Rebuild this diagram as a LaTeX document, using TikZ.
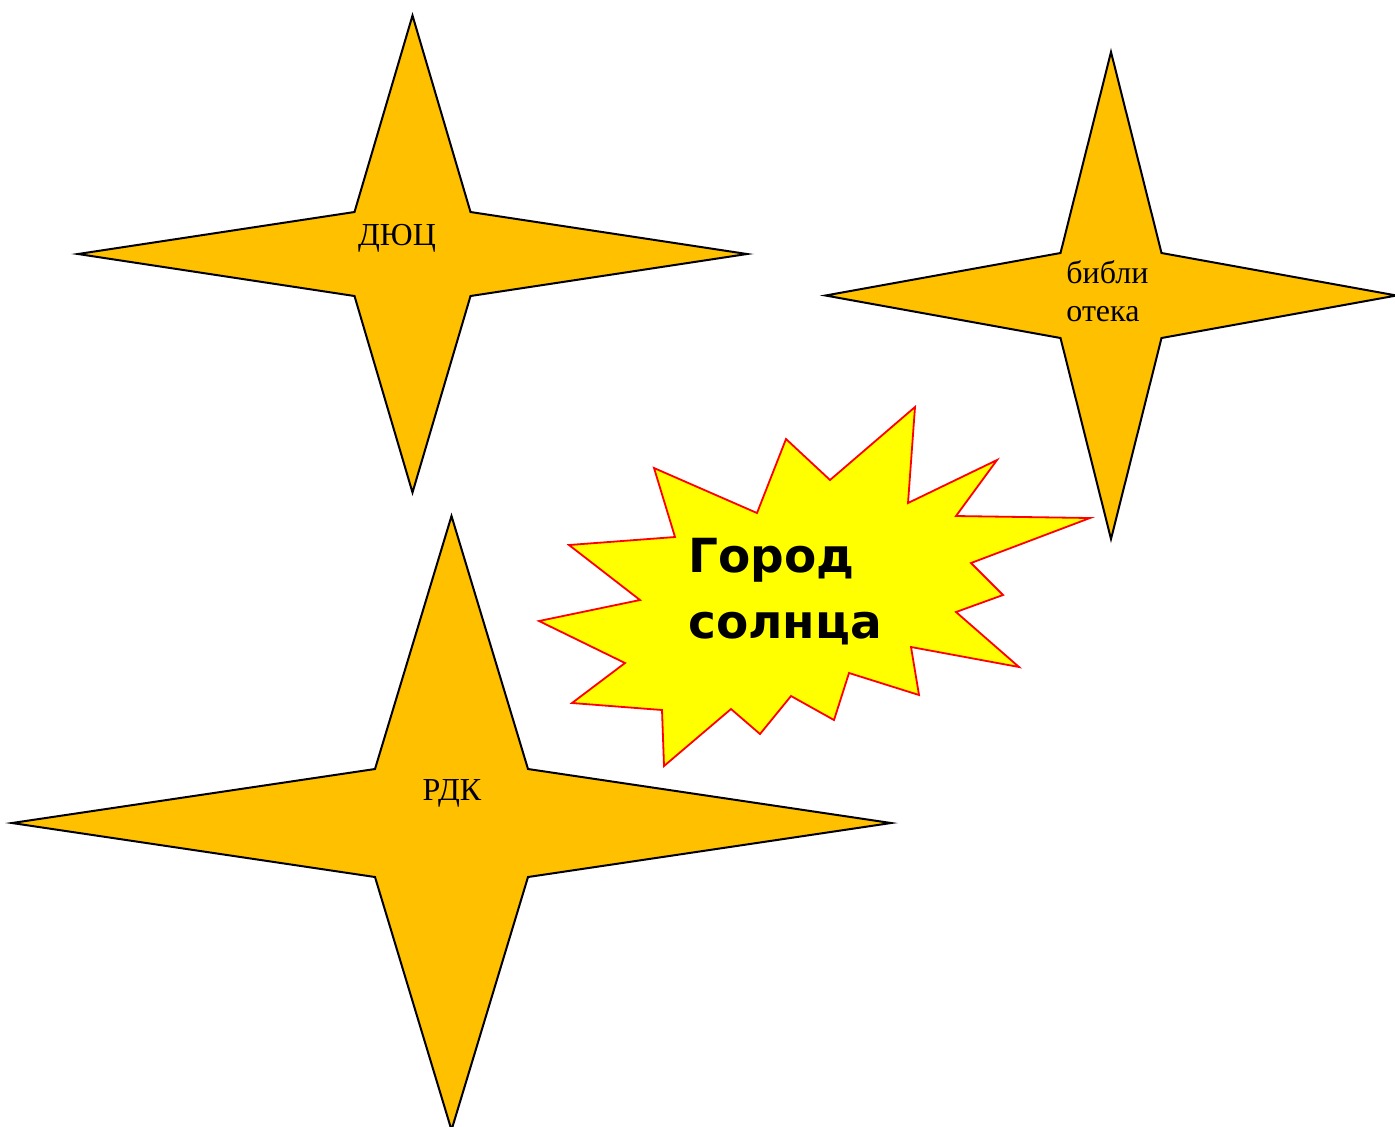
\documentclass[tikz,border=0pt]{standalone}
\usepackage{fontspec}
\setmainfont{Liberation Serif}
\newfontfamily\heavyfont{DejaVu Sans}
\usepackage{xcolor}
\definecolor{starorange}{HTML}{FFC000}
\definecolor{burstyellow}{HTML}{FFFF00}
\definecolor{burstred}{HTML}{FF0000}
\tikzset{
  fourstar/.style={draw=black, fill=starorange, line width=1pt, line join=miter},
  burst/.style={draw=burstred, fill=burstyellow, line width=0.9pt, line join=miter},
  lbl/.style={font=\fontsize{16}{19}\selectfont, inner sep=0pt, align=left},
  titlelbl/.style={font=\heavyfont\bfseries\fontsize{23.5}{33}\selectfont,
    inner sep=0pt, align=left}
}
% centre x, centre y, outer half-width, outer half-height, inner x, inner y
\newcommand{\fourpoint}[6]{%
  \draw[fourstar] ({#1},{#2-#4}) -- ({#1+#5},{#2-#6}) -- ({#1+#3},{#2})
    -- ({#1+#5},{#2+#6}) -- ({#1},{#2+#4}) -- ({#1-#5},{#2+#6})
    -- ({#1-#3},{#2}) -- ({#1-#5},{#2-#6}) -- cycle;}

\begin{document}
\begin{tikzpicture}[x=0.5pt, y=-0.5pt]
  \useasboundingbox (0,0) rectangle (1395,1126);

  % stars
  \fourpoint{412.5}{254}{334.5}{238.5}{58}{42}
  \fourpoint{1111}{295.5}{285.5}{243.5}{50.5}{42.5}
  \begin{scope}
    \clip (0,0) rectangle (1395,1126);
    \fourpoint{451.5}{823}{439.5}{307}{76.5}{54}
  \end{scope}

  \node[lbl, anchor=base] (duc) at (397,245) {ДЮЦ};
  \node[lbl, anchor=base west] (lib) at (1066,321) {библи\\отека};
  \node[lbl, anchor=base] (rdk) at (452,800) {РДК};

  % explosion
  \draw[burst] (654,468) -- (757,513) -- (786,439) -- (830,480) -- (915,407)
    -- (908,503) -- (997,460) -- (956,516) -- (1090,518) -- (971,563)
    -- (1003,595) -- (956,612) -- (1019,667) -- (911,647) -- (919,695)
    -- (849,673) -- (834,720) -- (791,696) -- (760,734) -- (731,709)
    -- (664,766) -- (662,710) -- (572,703) -- (625,663) -- (539,621)
    -- (640,600) -- (569,545) -- (675,537) -- cycle;
  \node[titlelbl, anchor=base west] (city) at (688,638) {Город\\солнца};
\end{tikzpicture}
\end{document}
